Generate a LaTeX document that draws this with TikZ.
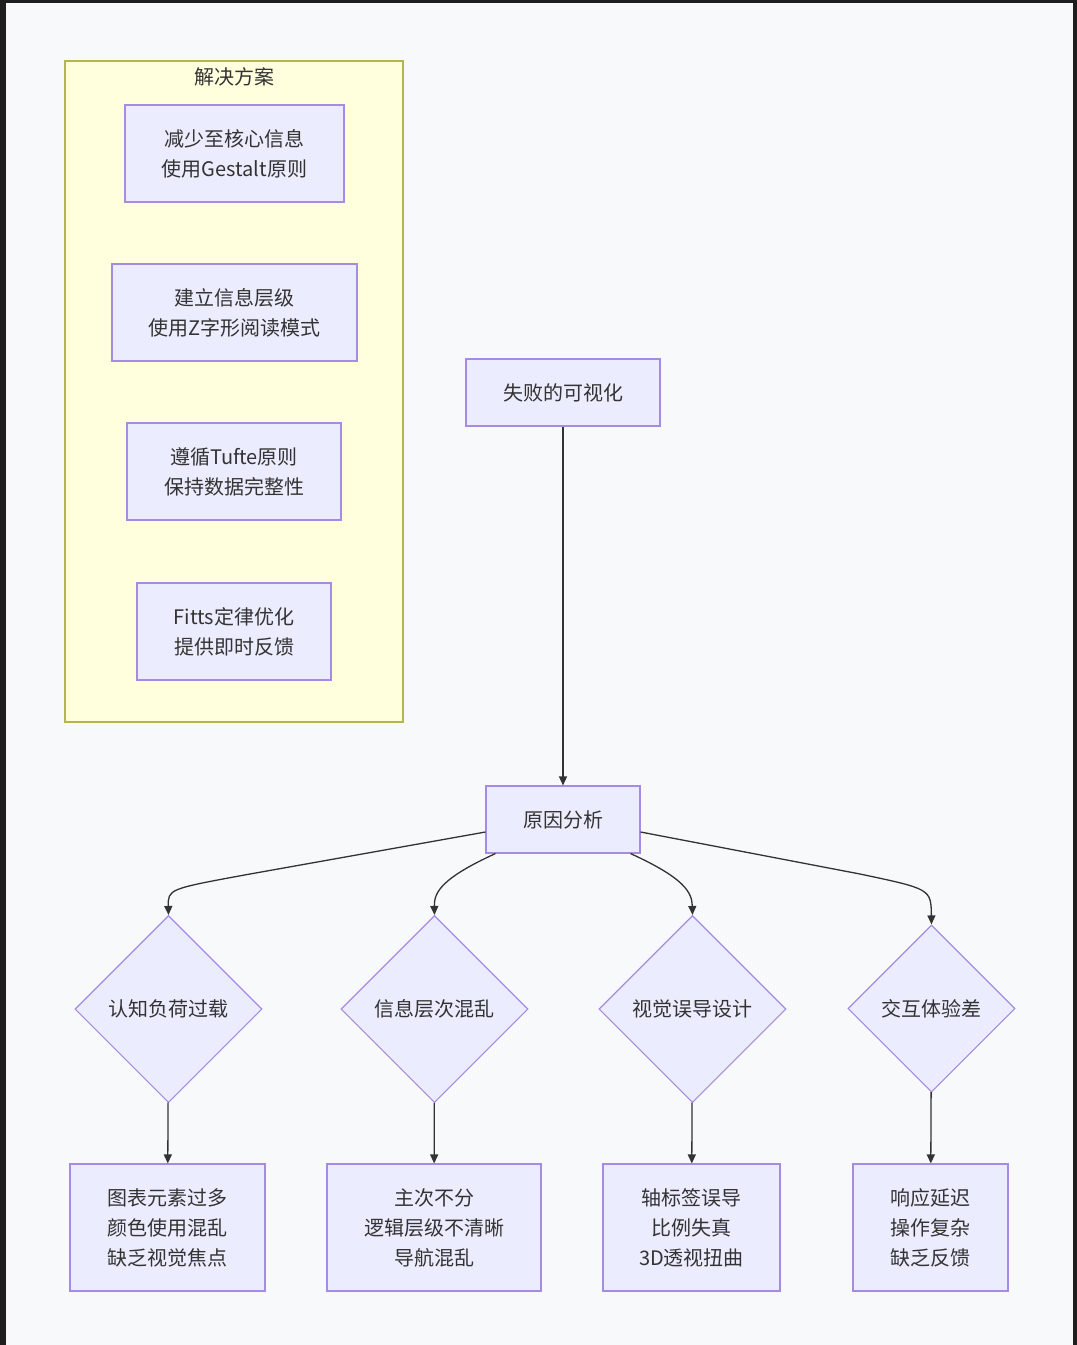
\documentclass[tikz,border=0pt]{standalone}
\usepackage{fontspec}
\setmainfont{Noto Sans CJK SC}
\usetikzlibrary{shapes.geometric,arrows.meta}
\definecolor{nodefill}{HTML}{ECECFF}
\definecolor{nodeline}{HTML}{A68BE2}
\definecolor{clusterfill}{HTML}{FFFFDE}
\definecolor{clusterline}{HTML}{B5B54E}
\definecolor{ink}{HTML}{333333}
\definecolor{pagebg}{HTML}{F8F9FB}
\definecolor{frame}{HTML}{1E1E1E}
\tikzset{
    box/.style={draw=nodeline, fill=nodefill, line width=1.1pt, text=ink, align=center, inner sep=0pt,
        font=\fontsize{20}{30}\selectfont},
    choice/.style={diamond, draw=nodeline, fill=nodefill, line width=1.1pt, text=ink, inner sep=0pt,
        aspect=1, font=\fontsize{20}{30}\selectfont},
    flow/.style={draw=ink, line width=1.3pt, -{Triangle[length=9pt,width=8pt]}},
}
\begin{document}
\begin{tikzpicture}[x=1pt, y=-1pt]
    % page and frame
    \fill[pagebg] (0,0) rectangle (1077,1345);
    \fill[frame] (0,0) rectangle (1077,3);
    \fill[frame] (0,0) rectangle (6,1345);
    \fill[frame] (1073,0) rectangle (1077,1345);
    % cluster
    \draw[fill=clusterfill, draw=clusterline, line width=1.1pt] (65,61) rectangle (403,722);
    \node[text=ink, font=\fontsize{20}{24}\selectfont] (title) at (234,77) {解决方案};
    \node[box, minimum width=219pt, minimum height=97pt] (s1) at (234.5,153.5) {减少至核心信息\\使用Gestalt原则};
    \node[box, minimum width=245pt, minimum height=97pt] (s2) at (234.5,312.5) {建立信息层级\\使用Z字形阅读模式};
    \node[box, minimum width=214pt, minimum height=97pt] (s3) at (234,471.5) {遵循Tufte原则\\保持数据完整性};
    \node[box, minimum width=194pt, minimum height=97pt] (s4) at (234,631.5) {Fitts定律优化\\提供即时反馈};
    % main flow
    \node[box, minimum width=194pt, minimum height=67pt] (fail) at (563,392.5) {失败的可视化};
    \node[box, minimum width=154pt, minimum height=67pt] (cause) at (563,819.5) {原因分析};
    \node[choice, minimum width=187pt, minimum height=187pt] (d1) at (168.5,1009) {认知负荷过载};
    \node[choice, minimum width=187pt, minimum height=187pt] (d2) at (434.5,1009) {信息层次混乱};
    \node[choice, minimum width=187pt, minimum height=187pt] (d3) at (692.5,1009) {视觉误导设计};
    \node[choice, minimum width=167pt, minimum height=167pt] (d4) at (931.5,1008.5) {交互体验差};
    \node[box, minimum width=195pt, minimum height=127pt] (r1) at (167.5,1227.5) {图表元素过多\\颜色使用混乱\\缺乏视觉焦点};
    \node[box, minimum width=214pt, minimum height=127pt] (r2) at (434,1227.5) {主次不分\\逻辑层级不清晰\\导航混乱};
    \node[box, minimum width=177pt, minimum height=127pt] (r3) at (691.5,1227.5) {轴标签误导\\比例失真\\3D透视扭曲};
    \node[box, minimum width=155pt, minimum height=127pt] (r4) at (930.5,1227.5) {响应延迟\\操作复杂\\缺乏反馈};
    % edges
    \draw[flow] (fail) -- (cause);
    \draw[flow] ([yshift=-12.5pt]cause.west) -- (250,874) .. controls (168,889) .. (d1.north);
    \draw[flow] ([xshift=10pt]cause.south west) .. controls (442,878) and (434,892) .. (d2.north);
    \draw[flow] ([xshift=-10pt]cause.south east) .. controls (684,878) and (692,892) .. (d3.north);
    \draw[flow] ([yshift=-12.5pt]cause.east) -- (860,874) .. controls (931,889) .. (d4.north);
    \draw[flow] (d1) -- (r1);
    \draw[flow] (d2) -- (r2);
    \draw[flow] (d3) -- (r3);
    \draw[flow] (d4) -- (r4);
\end{tikzpicture}
\end{document}
